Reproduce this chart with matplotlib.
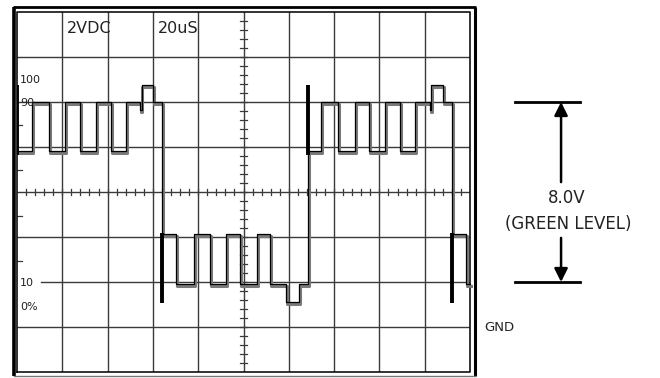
import matplotlib
matplotlib.use("Agg")
import matplotlib.pyplot as plt
import numpy as np

# ---- data (in screen divisions: x 0..10, y 0..8) ----
step_times = [0.0, 0.33, 0.71, 1.06, 1.39, 1.74, 2.08, 2.41, 2.72, 2.75, 3.01,
              3.20, 3.51, 3.91, 4.26, 4.61, 4.92, 5.30, 5.59, 5.94, 6.23,
              6.42, 6.71, 7.09, 7.46, 7.77, 8.12, 8.45, 8.79, 9.12, 9.15, 9.40,
              9.60, 9.91, 10.0]
step_levels = [4.91, 6.0, 4.91, 6.0, 4.91, 6.0, 4.91, 6.0, 5.82, 6.38, 6.0,
               3.07, 1.96, 3.07, 1.96, 3.07, 1.96, 3.07, 1.96, 1.56, 1.96,
               4.91, 6.0, 4.91, 6.0, 4.91, 6.0, 4.91, 6.0, 5.82, 6.38, 6.0,
               3.07, 1.96, 1.96]
bar_x = [0.0, 3.20, 6.42, 9.60]
bar_lo = [4.82, 1.53, 4.82, 1.53]
bar_hi = [6.38, 3.09, 6.38, 3.09]

level_labels = ["100", "90", "10", "0%"]
level_label_y = [6.49, 5.98, 1.98, 1.44]
edge_tick_y = [5.49, 4.49, 3.47, 2.47]

scale_labels = ["2VDC", "20uS"]
scale_label_x = [1.10, 3.11]

green_top = 6.0
green_bottom = 2.0
gnd_level = 1.0

fig = plt.figure(figsize=(6.6, 3.78), dpi=100)
ax = fig.add_axes([17/660, 6/378, 453/660, 360/378])
ax.set_xlim(0, 10)
ax.set_ylim(0, 8)
ax.axis("off")

grid_col = "#3a3a3a"
for xv in range(1, 10):
    ax.plot([xv, xv], [0, 8], color=grid_col, lw=1.0, zorder=1)
for yv in range(1, 8):
    x0 = 0.52 if yv == 2 else 0
    ax.plot([x0, 10], [yv, yv], color=grid_col, lw=1.0, zorder=1)
# inner border
ax.plot([0, 10, 10, 0, 0], [0, 0, 8, 8, 0], color="#111", lw=1.2, zorder=2, clip_on=False)

# centre graticule minor ticks
minor = np.arange(0.2, 10, 0.2)
for xv in minor:
    ax.plot([xv, xv], [4 - 0.07, 4 + 0.07], color=grid_col, lw=0.9, zorder=1)
for yv in np.arange(0.2, 8, 0.2):
    ax.plot([5 - 0.07, 5 + 0.07], [yv, yv], color=grid_col, lw=0.9, zorder=1)
for yv in edge_tick_y:
    ax.plot([0, 0.11], [yv, yv], color=grid_col, lw=0.9, zorder=1)

# outer frame
ax.plot([-0.066, -0.066], [-0.09, 8.11], color="black", lw=2.6, clip_on=False, solid_capstyle="butt")
ax.plot([-0.09, 10.13], [8.11, 8.11], color="black", lw=2.0, clip_on=False, solid_capstyle="butt")
ax.plot([10.11, 10.11], [-0.09, 8.11], color="black", lw=2.2, clip_on=False, solid_capstyle="butt")
ax.plot([-0.066, 10.11], [-0.09, -0.09], color="#777", lw=1.0, clip_on=False)

# waveform: two overlapping traces
t = np.array(step_times)
v = np.array(step_levels)
ax.step(t + 0.02, v - 0.05, where="post", color="#7a7a7a", lw=2.2, zorder=3, clip_on=False)
ax.step(t, v, where="post", color="black", lw=0.9, zorder=4, clip_on=False)
for bx, lo, hi in zip(bar_x, bar_lo, bar_hi):
    ax.plot([bx + 0.01, bx + 0.01], [lo, hi], color="black", lw=2.8, zorder=5, solid_capstyle="butt")

# labels
for s, xv in zip(scale_labels, scale_label_x):
    ax.text(xv, 7.64, s, fontsize=11.5, ha="left", va="center", color="#222", zorder=6)
for s, yv in zip(level_labels, level_label_y):
    ax.text(0.07, yv, s, fontsize=8, ha="left", va="center", color="#222", zorder=6)

# right-hand annotation
ax.plot([10.99, 12.43], [green_top, green_top], color="black", lw=2.0, clip_on=False)
ax.plot([10.99, 12.43], [green_bottom, green_bottom], color="black", lw=2.0, clip_on=False)
ax.annotate("", xy=(12.01, green_top), xytext=(12.01, 4.22), annotation_clip=False,
            arrowprops=dict(arrowstyle="-|>,head_length=0.8,head_width=0.4", color="black", lw=1.8,
                            shrinkA=0, shrinkB=0))
ax.annotate("", xy=(12.01, green_bottom), xytext=(12.01, 2.98), annotation_clip=False,
            arrowprops=dict(arrowstyle="-|>,head_length=0.8,head_width=0.4", color="black", lw=1.8,
                            shrinkA=0, shrinkB=0))
ax.text(12.14, 3.87, "8.0V", fontsize=12, ha="center", va="center", color="#222")
ax.text(12.16, 3.29, "(GREEN LEVEL)", fontsize=12, ha="center", va="center", color="#222")
ax.text(10.31, gnd_level - 0.02, "GND", fontsize=9.5, ha="left", va="center", color="#222")

fig.savefig("out.png", dpi=100)
